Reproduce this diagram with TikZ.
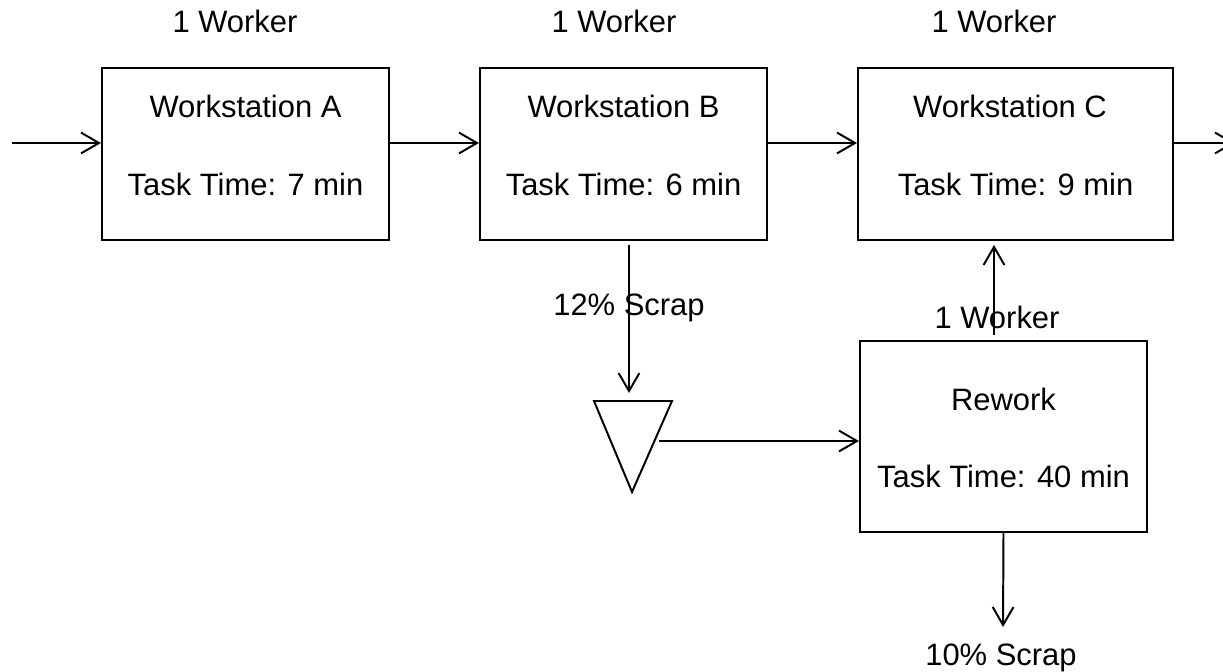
\documentclass[tikz,border=0pt]{standalone}
\usepackage{fontspec}
\setmainfont{Liberation Sans}
\usetikzlibrary{arrows.meta}

\tikzset{
  station/.style={draw, line width=1.4pt, inner sep=0pt, minimum width=7.175cm, minimum height=4.3cm},
  txt/.style={anchor=base, inner sep=0pt, font=\fontsize{22}{26}\selectfont},
  flow/.style={->, line width=1.4pt},
}

\begin{document}
\begin{tikzpicture}[x=0.025cm, y=-0.025cm, >={Straight Barb[length=0.45cm, width=0.52cm]}]
\useasboundingbox (0,0) rectangle (1223,671);
% stations
\node[station] (wsA) at (245.5,154) {};
\node[station] (wsB) at (623.5,154) {};
\node[station, minimum width=7.875cm] (wsC) at (1015.5,154) {};
\node[station, minimum height=4.775cm] (rework) at (1003.5,436.5) {};
\node[txt] (wsAname) at (245.5,117) {Workstation A};
\node[txt] (wsAtime) at (245.5,195) {Task Time: 7 min};
\node[txt] (wsBname) at (623.5,117) {Workstation B};
\node[txt] (wsBtime) at (623.5,195) {Task Time: 6 min};
\node[txt] (wsCname) at (1010,117) {Workstation C};
\node[txt] (wsCtime) at (1015.5,195) {Task Time: 9 min};
\node[txt] (rwname) at (1003.5,410) {Rework};
\node[txt] (rwtime) at (1003.5,487) {Task Time: 40 min};
% workers
\node[txt] (wkA) at (235,32) {1 Worker};
\node[txt] (wkB) at (614,32) {1 Worker};
\node[txt] (wkC) at (994,32) {1 Worker};
\node[txt] (wkR) at (997,328) {1 Worker};
\node[txt] (scrapB) at (629,315) {12\% Scrap};
\node[txt] (scrapR) at (1001,665) {10\% Scrap};
% scrap pile
\coordinate (triL) at (594,401);
\coordinate (triR) at (672,401);
\coordinate (triTip) at (632,492);
\draw[line width=1.4pt] (triL) -- (triR) -- (triTip) -- cycle;
% flow
\coordinate (in) at (12,143);
\coordinate (out) at (1235,143);
\draw[flow] (in) -- (wsA.west |- in);
\draw[flow] (wsA.east |- in) -- (wsB.west |- in);
\draw[flow] (wsB.east |- in) -- (wsC.west |- in);
\draw[flow] (wsC.east |- in) -- (out);
\coordinate (bOut) at (629,245);
\coordinate (triIn) at (629,393);
\draw[flow] (bOut) -- (triIn);
\coordinate (triOut) at (659,441);
\draw[flow] (triOut) -- (rework.west |- triOut);
\coordinate (rwUp) at (994,335);
\coordinate (cIn) at (994,245);
\draw[flow] (rwUp) -- (cIn);
\coordinate (rwDown) at (1003,627);
\draw[flow] (rework.south) -- (rwDown);
\end{tikzpicture}
\end{document}
